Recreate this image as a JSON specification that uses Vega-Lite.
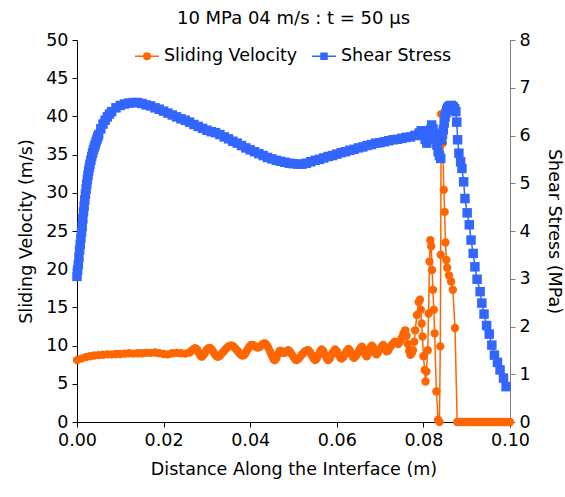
{
  "$schema": "https://vega.github.io/schema/vega-lite/v6.json",
  "width": 433,
  "height": 382,
  "autosize": "none",
  "padding": {"left": 77, "top": 40, "right": 55, "bottom": 75},
  "background": "white",
  "config": {
    "font": "DejaVu Sans",
    "view": {"stroke": null},
    "axis": {"grid": false, "domainColor": "black", "tickColor": "black", "labelColor": "black", "titleColor": "black", "labelFontSize": 17.5, "titleFontSize": 17.5, "titleFontWeight": "normal", "tickSize": 5, "labelPadding": 4, "labelFlush": false, "labelOverlap": false}
  },
  "title": {"text": "10 MPa 04 m/s : t = 50 μs", "fontSize": 18, "fontWeight": "normal", "font": "DejaVu Sans", "color": "black", "anchor": "middle", "frame": "group", "offset": 3},
  "datasets": {
    "vel": [
      {"d":0.0000,"v":8.1},{"d":0.0010,"v":8.3},{"d":0.0020,"v":8.5},{"d":0.0030,"v":8.6},{"d":0.0040,"v":8.7},{"d":0.0050,"v":8.75},{"d":0.0060,"v":8.8},{"d":0.0070,"v":8.85},{"d":0.0080,"v":8.85},{"d":0.0090,"v":8.9},{"d":0.0100,"v":8.9},{"d":0.0110,"v":8.95},{"d":0.0120,"v":9.0},{"d":0.0130,"v":8.95},{"d":0.0140,"v":9.0},{"d":0.0150,"v":9.0},{"d":0.0160,"v":9.05},{"d":0.0170,"v":9.05},{"d":0.0180,"v":9.1},{"d":0.0190,"v":9.0},{"d":0.0200,"v":8.9},{"d":0.0210,"v":8.85},{"d":0.0220,"v":9.0},{"d":0.0230,"v":9.05},{"d":0.0240,"v":9.0},{"d":0.0250,"v":8.95},
      {"d":0.0260,"v":9.1},{"d":0.0264,"v":9.3},{"d":0.0268,"v":9.5},{"d":0.0273,"v":9.65},{"d":0.0277,"v":9.5},{"d":0.0281,"v":9.1},{"d":0.0285,"v":8.7},{"d":0.0288,"v":8.55},{"d":0.0292,"v":8.75},{"d":0.0296,"v":9.1},{"d":0.0300,"v":9.45},{"d":0.0304,"v":9.65},{"d":0.0307,"v":9.7},{"d":0.0311,"v":9.5},{"d":0.0315,"v":9.15},{"d":0.0319,"v":8.8},{"d":0.0323,"v":8.6},{"d":0.0326,"v":8.55},{"d":0.0330,"v":8.7},{"d":0.0334,"v":8.95},{"d":0.0338,"v":9.2},{"d":0.0342,"v":9.45},{"d":0.0346,"v":9.7},{"d":0.0350,"v":9.9},{"d":0.0354,"v":10.0},{"d":0.0358,"v":10.0},{"d":0.0362,"v":9.85},{"d":0.0366,"v":9.6},{"d":0.0370,"v":9.35},{"d":0.0374,"v":9.1},{"d":0.0378,"v":8.85},{"d":0.0382,"v":8.7},{"d":0.0386,"v":8.75},{"d":0.0390,"v":9.1},{"d":0.0394,"v":9.5},{"d":0.0398,"v":9.85},{"d":0.0402,"v":10.1},{"d":0.0406,"v":10.1},{"d":0.0410,"v":9.95},{"d":0.0414,"v":9.8},{"d":0.0418,"v":9.75},{"d":0.0422,"v":9.85},{"d":0.0426,"v":10.05},{"d":0.0430,"v":10.25},{"d":0.0434,"v":10.3},{"d":0.0438,"v":10.1},{"d":0.0442,"v":9.7},{"d":0.0446,"v":9.2},{"d":0.0450,"v":8.7},{"d":0.0454,"v":8.2},{"d":0.0457,"v":8.1},{"d":0.0460,"v":8.3},{"d":0.0464,"v":8.85},{"d":0.0468,"v":9.3},{"d":0.0472,"v":9.3},{"d":0.0476,"v":9.05},{"d":0.0480,"v":9.05},{"d":0.0484,"v":9.25},{"d":0.0488,"v":9.4},{"d":0.0492,"v":9.2},{"d":0.0496,"v":8.85},{"d":0.0500,"v":8.5},{"d":0.0504,"v":8.2},{"d":0.0507,"v":8.1},{"d":0.0511,"v":8.25},{"d":0.0515,"v":8.5},{"d":0.0519,"v":8.8},{"d":0.0523,"v":9.05},{"d":0.0527,"v":9.25},{"d":0.0531,"v":9.38},{"d":0.0534,"v":9.4},{"d":0.0538,"v":9.15},{"d":0.0542,"v":8.75},{"d":0.0546,"v":8.35},{"d":0.0550,"v":8.1},{"d":0.0554,"v":8.35},{"d":0.0558,"v":8.8},{"d":0.0562,"v":9.25},{"d":0.0565,"v":9.5},{"d":0.0569,"v":9.25},{"d":0.0573,"v":8.75},{"d":0.0577,"v":8.3},{"d":0.0580,"v":8.1},{"d":0.0584,"v":8.35},{"d":0.0588,"v":8.8},{"d":0.0592,"v":9.2},{"d":0.0596,"v":9.5},{"d":0.0600,"v":9.25},{"d":0.0604,"v":8.85},{"d":0.0608,"v":8.45},{"d":0.0611,"v":8.3},{"d":0.0615,"v":8.5},{"d":0.0619,"v":8.9},{"d":0.0623,"v":9.3},{"d":0.0627,"v":9.55},{"d":0.0630,"v":9.35},{"d":0.0634,"v":8.9},{"d":0.0637,"v":8.55},{"d":0.0640,"v":8.4},{"d":0.0644,"v":8.65},{"d":0.0648,"v":9.0},{"d":0.0652,"v":9.4},{"d":0.0655,"v":9.7},{"d":0.0658,"v":9.85},{"d":0.0661,"v":9.6},{"d":0.0664,"v":9.1},{"d":0.0667,"v":8.75},{"d":0.0669,"v":8.6},{"d":0.0672,"v":8.9},{"d":0.0675,"v":9.35},{"d":0.0678,"v":9.75},{"d":0.0681,"v":10.0},{"d":0.0684,"v":9.75},{"d":0.0687,"v":9.3},{"d":0.0690,"v":8.95},{"d":0.0692,"v":8.85},{"d":0.0696,"v":9.15},{"d":0.0700,"v":9.55},{"d":0.0704,"v":9.9},{"d":0.0707,"v":10.1},{"d":0.0711,"v":9.75},{"d":0.0715,"v":9.25},{"d":0.0719,"v":9.4},{"d":0.0723,"v":9.8},{"d":0.0727,"v":10.1},{"d":0.0731,"v":10.35},{"d":0.0734,"v":10.5},{"d":0.0738,"v":10.4},{"d":0.0742,"v":10.2},{"d":0.0746,"v":10.5},{"d":0.0750,"v":11.0},{"d":0.0754,"v":11.6},{"d":0.0758,"v":12.0},{"d":0.0761,"v":11.3},{"d":0.0764,"v":10.2},{"d":0.0767,"v":9.3},{"d":0.0770,"v":8.8},{"d":0.0773,"v":9.0},{"d":0.0776,"v":9.4},{"d":0.0779,"v":10.5},
      {"d":0.0781,"v":12.0},{"d":0.0785,"v":14.0},{"d":0.0789,"v":15.7},{"d":0.0792,"v":16.0},{"d":0.0794,"v":14.7},{"d":0.0796,"v":12.9},{"d":0.0798,"v":11.2},{"d":0.0800,"v":8.6},{"d":0.0803,"v":6.8},{"d":0.0805,"v":5.3},{"d":0.0807,"v":6.6},{"d":0.0810,"v":9.4},{"d":0.0812,"v":14.2},{"d":0.0814,"v":21.0},{"d":0.0816,"v":23.8},{"d":0.0818,"v":23.0},{"d":0.0820,"v":19.9},{"d":0.0822,"v":17.3},{"d":0.0824,"v":14.7},{"d":0.0826,"v":11.6},{"d":0.0830,"v":4.0},{"d":0.0834,"v":0.3},{"d":0.0837,"v":0.0},{"d":0.0839,"v":9.9},{"d":0.0840,"v":21.9},{"d":0.0841,"v":40.3},{"d":0.0845,"v":36.5},{"d":0.0847,"v":30.4},{"d":0.0849,"v":27.5},{"d":0.0851,"v":23.5},{"d":0.0853,"v":21.2},{"d":0.0855,"v":20.2},{"d":0.0859,"v":19.2},{"d":0.0864,"v":18.4},{"d":0.0868,"v":17.3},{"d":0.0873,"v":12.3},{"d":0.0878,"v":0.0},
      {"d":0.0885,"v":0},{"d":0.0890,"v":0},{"d":0.0895,"v":0},{"d":0.0900,"v":0},{"d":0.0905,"v":0},{"d":0.0910,"v":0},{"d":0.0915,"v":0},{"d":0.0920,"v":0},{"d":0.0925,"v":0},{"d":0.0930,"v":0},{"d":0.0935,"v":0},{"d":0.0940,"v":0},{"d":0.0945,"v":0},{"d":0.0950,"v":0},{"d":0.0955,"v":0},{"d":0.0960,"v":0},{"d":0.0965,"v":0},{"d":0.0970,"v":0},{"d":0.0975,"v":0},{"d":0.0980,"v":0},{"d":0.0985,"v":0},{"d":0.0990,"v":0},{"d":0.0995,"v":0},{"d":0.1000,"v":0}
    ],
    "stress": [
      {"d":0.0000,"s":3.05},{"d":0.00015,"s":3.18},{"d":0.0003,"s":3.3},{"d":0.00045,"s":3.45},{"d":0.0006,"s":3.6},{"d":0.00075,"s":3.72},{"d":0.0009,"s":3.85},{"d":0.00105,"s":3.98},{"d":0.0012,"s":4.1},{"d":0.00135,"s":4.25},{"d":0.0015,"s":4.4},{"d":0.00165,"s":4.52},{"d":0.0018,"s":4.65},{"d":0.00195,"s":4.77},{"d":0.0021,"s":4.88},{"d":0.00225,"s":4.98},{"d":0.0024,"s":5.08},{"d":0.00255,"s":5.17},{"d":0.0027,"s":5.26},{"d":0.00285,"s":5.33},{"d":0.0030,"s":5.4},{"d":0.0032,"s":5.48},{"d":0.0034,"s":5.56},{"d":0.0036,"s":5.63},{"d":0.0038,"s":5.70},{"d":0.0040,"s":5.76},{"d":0.0042,"s":5.81},{"d":0.0044,"s":5.87},{"d":0.0046,"s":5.92},{"d":0.0048,"s":5.97},{"d":0.0050,"s":6.02},{"d":0.0055,"s":6.14},{"d":0.0060,"s":6.24},{"d":0.0065,"s":6.32},{"d":0.0070,"s":6.39},{"d":0.0075,"s":6.45},
      {"d":0.008,"s":6.5},{"d":0.009,"s":6.58},{"d":0.010,"s":6.63},{"d":0.011,"s":6.66},{"d":0.012,"s":6.68},{"d":0.013,"s":6.69},{"d":0.014,"s":6.69},{"d":0.015,"s":6.67},{"d":0.016,"s":6.64},{"d":0.017,"s":6.62},{"d":0.018,"s":6.58},{"d":0.019,"s":6.55},{"d":0.020,"s":6.51},{"d":0.021,"s":6.47},{"d":0.022,"s":6.43},{"d":0.023,"s":6.39},{"d":0.024,"s":6.35},{"d":0.025,"s":6.32},{"d":0.026,"s":6.28},{"d":0.027,"s":6.23},{"d":0.028,"s":6.19},{"d":0.029,"s":6.15},{"d":0.030,"s":6.11},{"d":0.031,"s":6.08},{"d":0.032,"s":6.06},{"d":0.033,"s":6.02},{"d":0.034,"s":5.97},{"d":0.035,"s":5.93},{"d":0.036,"s":5.88},{"d":0.037,"s":5.84},{"d":0.038,"s":5.79},{"d":0.039,"s":5.74},{"d":0.040,"s":5.70},{"d":0.041,"s":5.66},{"d":0.042,"s":5.62},{"d":0.043,"s":5.58},{"d":0.044,"s":5.54},{"d":0.045,"s":5.51},{"d":0.046,"s":5.48},{"d":0.047,"s":5.46},{"d":0.048,"s":5.44},{"d":0.049,"s":5.42},{"d":0.050,"s":5.41},{"d":0.051,"s":5.40},{"d":0.052,"s":5.40},{"d":0.053,"s":5.42},{"d":0.054,"s":5.45},{"d":0.055,"s":5.48},{"d":0.056,"s":5.50},{"d":0.057,"s":5.53},{"d":0.058,"s":5.56},{"d":0.059,"s":5.58},{"d":0.060,"s":5.61},{"d":0.061,"s":5.64},{"d":0.062,"s":5.66},{"d":0.063,"s":5.69},{"d":0.064,"s":5.71},{"d":0.065,"s":5.74},{"d":0.066,"s":5.76},{"d":0.067,"s":5.79},{"d":0.068,"s":5.81},{"d":0.069,"s":5.84},{"d":0.070,"s":5.85},{"d":0.071,"s":5.87},{"d":0.072,"s":5.89},{"d":0.073,"s":5.91},{"d":0.074,"s":5.92},{"d":0.075,"s":5.94},{"d":0.076,"s":5.96},{"d":0.077,"s":5.97},{"d":0.078,"s":6.0},{"d":0.079,"s":6.05},{"d":0.0795,"s":6.1},{"d":0.080,"s":6.0},{"d":0.0804,"s":5.92},{"d":0.0808,"s":5.84},{"d":0.0811,"s":5.92},{"d":0.0814,"s":6.0},{"d":0.0817,"s":6.12},{"d":0.0819,"s":6.22},{"d":0.0822,"s":6.14},{"d":0.0824,"s":6.05},{"d":0.0828,"s":5.92},{"d":0.0831,"s":5.80},{"d":0.0834,"s":5.66},{"d":0.0837,"s":5.58},{"d":0.0840,"s":5.52},{"d":0.0842,"s":5.91},{"d":0.0844,"s":6.02},{"d":0.0846,"s":6.12},{"d":0.0848,"s":6.26},{"d":0.0850,"s":6.39},{"d":0.0852,"s":6.47},{"d":0.0854,"s":6.53},{"d":0.0856,"s":6.57},{"d":0.0858,"s":6.60},{"d":0.0861,"s":6.62},{"d":0.0865,"s":6.63},{"d":0.0869,"s":6.60},{"d":0.0872,"s":6.56},{"d":0.0875,"s":6.50},{"d":0.0877,"s":6.28},{"d":0.0879,"s":5.91},{"d":0.0882,"s":5.63},{"d":0.0886,"s":5.45},{"d":0.0889,"s":5.31},{"d":0.0893,"s":5.03},{"d":0.0896,"s":4.68},{"d":0.0901,"s":4.38},{"d":0.0906,"s":4.13},{"d":0.0910,"s":3.81},{"d":0.0915,"s":3.53},{"d":0.0919,"s":3.25},{"d":0.0924,"s":2.99},{"d":0.0931,"s":2.73},{"d":0.0935,"s":2.49},{"d":0.0940,"s":2.26},{"d":0.0946,"s":2.02},{"d":0.0952,"s":1.84},{"d":0.0958,"s":1.61},{"d":0.0964,"s":1.40},{"d":0.0971,"s":1.25},{"d":0.0977,"s":1.09},{"d":0.0985,"s":0.92},{"d":0.0991,"s":0.74}
    ]
  },
  "layer": [
    {
      "data": {"name": "vel"},
      "mark": {"type": "line", "color": "#FF6600", "strokeWidth": 1.5, "point": {"filled": true, "shape": "circle", "size": 70, "color": "#FF6600", "opacity": 1}},
      "encoding": {
        "x": {"field": "d", "type": "quantitative", "scale": {"domain": [0, 0.1], "nice": false, "zero": false}, "axis": {"values": [0, 0.02, 0.04, 0.06, 0.08, 0.1], "format": ".2f", "title": "Distance Along the Interface (m)", "titlePadding": 12}},
        "y": {"field": "v", "type": "quantitative", "scale": {"domain": [0, 50], "nice": false}, "axis": {"values": [0, 5, 10, 15, 20, 25, 30, 35, 40, 45, 50], "title": "Sliding Velocity (m/s)", "titlePadding": 10}}
      }
    },
    {
      "data": {"name": "stress"},
      "mark": {"type": "line", "color": "#3366FF", "strokeWidth": 1.5, "point": {"filled": true, "shape": "square", "size": 90, "color": "#3366FF", "opacity": 1}},
      "encoding": {
        "x": {"field": "d", "type": "quantitative", "scale": {"domain": [0, 0.1], "nice": false, "zero": false}, "axis": {"values": [0, 0.02, 0.04, 0.06, 0.08, 0.1], "format": ".2f", "title": "Distance Along the Interface (m)", "titlePadding": 12}},
        "y": {"field": "s", "type": "quantitative", "scale": {"domain": [0, 8], "nice": false}, "axis": {"orient": "right", "values": [0, 1, 2, 3, 4, 5, 6, 7, 8], "title": "Shear Stress (MPa)", "titlePadding": 14, "domainColor": "#808080", "tickColor": "#808080"}}
      }
    },
    {
      "data": {"values": []},
      "mark": {"type": "point", "filled": true, "strokeWidth": 1.5, "opacity": 1},
      "encoding": {
        "shape": {"field": "series", "type": "nominal", "scale": {"domain": ["Sliding Velocity", "Shear Stress"], "range": ["M-1,0L1,0M-0.27,0A0.27,0.27,0,1,1,0.27,0A0.27,0.27,0,1,1,-0.27,0Z", "M-1,0L1,0M-0.25,-0.25L0.25,-0.25L0.25,0.25L-0.25,0.25Z"]}, "legend": {"orient": "none", "legendX": 57, "legendY": 3, "direction": "horizontal", "title": null, "labelFontSize": 17.5, "labelColor": "black", "symbolSize": 576, "symbolStrokeWidth": 1.5, "symbolOpacity": 1, "labelOffset": 4, "columnPadding": 11}},
        "fill": {"field": "series", "type": "nominal", "scale": {"domain": ["Sliding Velocity", "Shear Stress"], "range": ["#FF6600", "#3366FF"]}, "legend": {"orient": "none", "legendX": 57, "legendY": 3, "direction": "horizontal", "title": null, "labelFontSize": 17.5, "labelColor": "black", "symbolSize": 576, "symbolStrokeWidth": 1.5, "symbolOpacity": 1, "labelOffset": 4, "columnPadding": 11}},
        "stroke": {"field": "series", "type": "nominal", "scale": {"domain": ["Sliding Velocity", "Shear Stress"], "range": ["#FF6600", "#3366FF"]}, "legend": {"orient": "none", "legendX": 57, "legendY": 3, "direction": "horizontal", "title": null, "labelFontSize": 17.5, "labelColor": "black", "symbolSize": 576, "symbolStrokeWidth": 1.5, "symbolOpacity": 1, "labelOffset": 4, "columnPadding": 11}}
      }
    }
  ],
  "resolve": {"scale": {"y": "independent"}}
}
